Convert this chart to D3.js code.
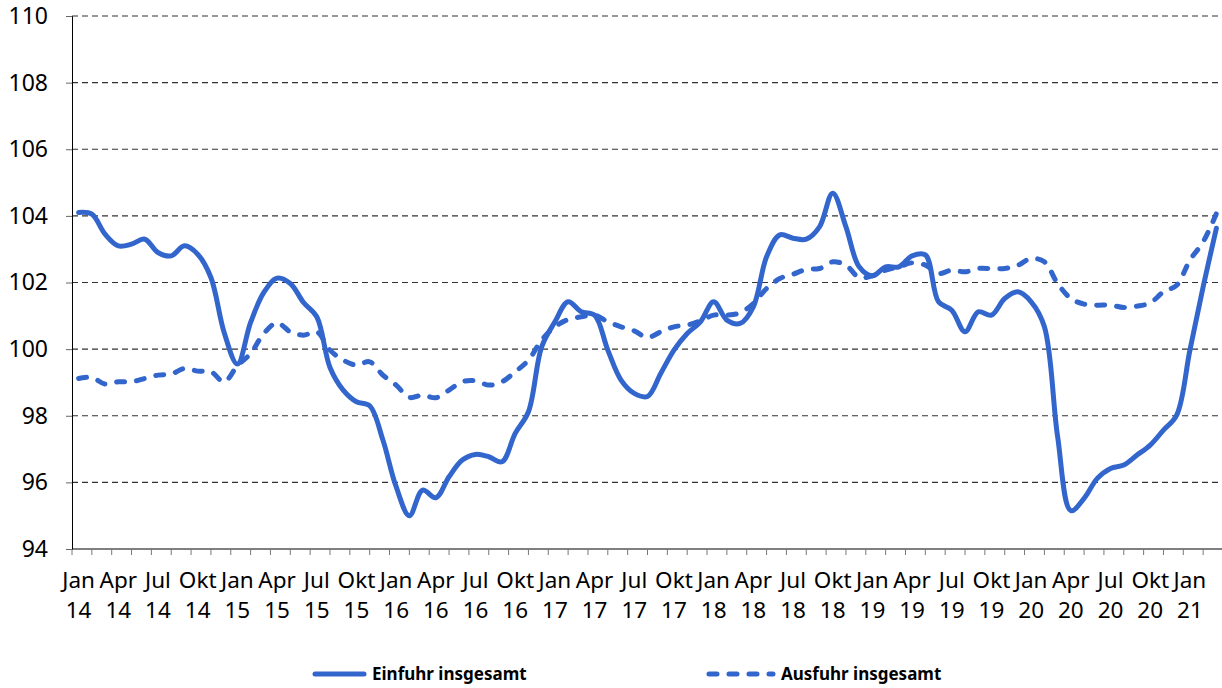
<!DOCTYPE html>
<html>
<head>
<meta charset="utf-8">
<script src="https://d3js.org/d3.v7.min.js"></script>
<style>
  body { margin: 0; background: #fff; }
  svg text { font-family: "Noto Sans", "Open Sans", sans-serif; fill: #000; }
</style>
</head>
<body>
<svg id="chart" width="1222" height="688"></svg>
<script>
// monthly values Jan 2014 .. Mar 2021
var einfuhr = [
  104.1, 104.05, 103.45, 103.1, 103.15, 103.3, 102.9, 102.8, 103.1, 102.85, 102.15, 100.5,
  99.55, 100.8, 101.7, 102.13, 101.97, 101.4, 100.97, 99.45, 98.77, 98.42, 98.3, 97.27,
  95.87, 95.0, 95.77, 95.54, 96.17, 96.67, 96.84, 96.77, 96.62, 97.47, 98.12, 100.07,
  100.82, 101.42, 101.12, 101.02, 99.97, 99.07, 98.67, 98.58, 99.27, 99.97, 100.47, 100.82,
  101.42, 100.87, 100.77, 101.27, 102.77, 103.43, 103.33, 103.3, 103.67, 104.68, 103.67, 102.47,
  102.2, 102.47, 102.47, 102.8, 102.83, 101.42, 101.17, 100.52, 101.12, 101.02, 101.52, 101.72,
  101.42, 100.67, 97.37, 95.15, 95.52, 96.12, 96.42, 96.52, 96.82, 97.12, 97.57, 98.02,
  99.97, 101.87, 103.63
]
var ausfuhr = [
  99.12, 99.15, 98.95, 99.02, 99.02, 99.12, 99.22, 99.25, 99.42, 99.34, 99.32, 99.02,
  99.5, 99.87, 100.47, 100.79, 100.52, 100.42, 100.52, 99.97, 99.67, 99.52, 99.62, 99.22,
  98.92, 98.55, 98.62, 98.54, 98.77, 99.02, 99.05, 98.92, 99.02, 99.32, 99.67, 100.27,
  100.67, 100.89, 100.97, 101.02, 100.82, 100.67, 100.55, 100.35, 100.52, 100.67, 100.72, 100.85,
  101.02, 101.02, 101.09, 101.37, 101.82, 102.12, 102.25, 102.39, 102.42, 102.62, 102.52, 102.15,
  102.2, 102.37, 102.47, 102.59, 102.52, 102.27, 102.37, 102.32, 102.42, 102.42, 102.42, 102.52,
  102.72, 102.62, 101.97, 101.52, 101.35, 101.32, 101.32, 101.25, 101.29, 101.39, 101.72, 101.92,
  102.67, 103.22, 104.07
]
var tickMonths = ["Jan", "Apr", "Jul", "Okt"]
var tickYears = ["14", "15", "16", "17", "18", "19", "20", "21"]
var yTicks = [94, 96, 98, 100, 102, 104, 106, 108, 110]
var seriesNames = ["Einfuhr insgesamt", "Ausfuhr insgesamt"]

var blue = "#3366cc"
var margin = { left: 72, top: 16, bottom: 549, right: 1223 }

var svg = d3.select("#chart")

var x = d3.scaleLinear()
  .domain([-0.5, einfuhr.length - 0.5])
  .range([margin.left, margin.right])

var y = d3.scaleLinear()
  .domain([94, 110])
  .range([margin.bottom, margin.top])

// gridlines
svg.append("g")
  .selectAll("line")
  .data(yTicks.filter(d => d > 94))
  .join("line")
  .attr("x1", margin.left)
  .attr("x2", 1222)
  .attr("y1", d => y(d))
  .attr("y2", d => y(d))
  .attr("stroke", "#333")
  .attr("stroke-width", 1.2)
  .attr("stroke-dasharray", "6,4")

// y axis
let yAxis = svg.append("g")
  .attr("transform", "translate(" + margin.left + ",0)")
  .call(d3.axisLeft(y).tickValues(yTicks).tickSize(6).tickPadding(18))
yAxis.select(".domain").attr("stroke", "#000")
yAxis.selectAll(".tick line").attr("stroke", "#666")
yAxis.selectAll("text")
  .style("font-size", "23px")
  .style("font-family", "Noto Sans")

// x axis: ticks every 1.5 months, labels every quarter
var tickPos = d3.range(0, einfuhr.length + 1.5, 1.5).map(d => d - 0.5)
let xAxis = svg.append("g")
  .attr("transform", "translate(0," + margin.bottom + ")")
xAxis.append("line")
  .attr("x1", margin.left).attr("x2", 1222)
  .attr("stroke", "#000")
xAxis.selectAll(".xt")
  .data(tickPos)
  .join("line")
  .attr("class", "xt")
  .attr("x1", d => x(d)).attr("x2", d => x(d))
  .attr("y1", 0).attr("y2", 6)
  .attr("stroke", "#777")

var labelIdx = d3.range(0, einfuhr.length, 3)
let lab = xAxis.selectAll(".xl")
  .data(labelIdx)
  .join("text")
  .attr("class", "xl")
  .attr("text-anchor", "middle")
  .attr("transform", d => "translate(" + x(d) + ",0)")
  .style("font-size", "22.5px")
lab.append("tspan")
  .attr("x", 0).attr("y", 39)
  .text(d => tickMonths[(d / 3) % 4])
lab.append("tspan")
  .attr("x", 0).attr("y", 69)
  .text(d => tickYears[Math.floor(d / 12)])

// lines
var line = d3.line()
  .x((d, i) => x(i))
  .y(d => y(d))
  .curve(d3.curveCatmullRom.alpha(0.5))

svg.append("path")
  .datum(ausfuhr)
  .attr("d", line)
  .attr("fill", "none")
  .attr("stroke", blue)
  .attr("stroke-width", 5)
  .attr("stroke-linecap", "round")
  .attr("stroke-dasharray", "8,12")

svg.append("path")
  .datum(einfuhr)
  .attr("d", line)
  .attr("fill", "none")
  .attr("stroke", blue)
  .attr("stroke-width", 5)
  .attr("stroke-linecap", "round")

// legend
var legend = svg.append("g")
var legX = [313, 707]
var legW = [53, 68]
legend.selectAll("line")
  .data(seriesNames)
  .join("line")
  .attr("x1", (d, i) => legX[i] + 2)
  .attr("x2", (d, i) => legX[i] + legW[i] - 2)
  .attr("y1", 674).attr("y2", 674)
  .attr("stroke", blue)
  .attr("stroke-width", 5)
  .attr("stroke-linecap", "round")
  .attr("stroke-dasharray", (d, i) => i == 1 ? "8,12" : null)
legend.selectAll("text")
  .data(seriesNames)
  .join("text")
  .attr("x", (d, i) => legX[i] + legW[i] + 6)
  .attr("y", 680)
  .style("font-size", "17px")
  .style("font-weight", "bold")
  .text(d => d)
</script>
</body>
</html>
